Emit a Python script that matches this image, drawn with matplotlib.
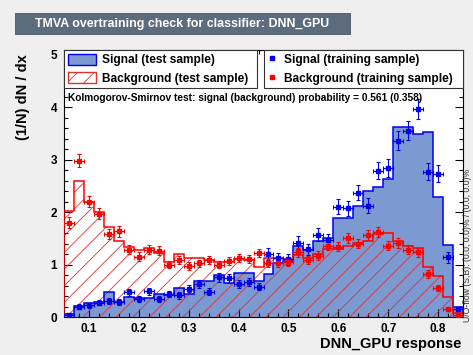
import numpy as np
import matplotlib
matplotlib.use("Agg")
import matplotlib.pyplot as plt
from matplotlib.patches import Patch, Rectangle
from matplotlib.lines import Line2D
from matplotlib.ticker import MultipleLocator

plt.rcParams['font.family'] = ['Liberation Sans', 'DejaVu Sans']
plt.rcParams['hatch.linewidth'] = 0.6

# ---------------- data ----------------
x_min, x_max, n_bins = 0.05, 0.85, 40

sig_test = [0.05, 0.21, 0.27, 0.29, 0.48, 0.28, 0.38, 0.37, 0.37, 0.44,
            0.42, 0.55, 0.43, 0.68, 0.68, 0.81, 0.64, 0.83, 0.84, 0.68,
            0.82, 1.03, 1.06, 1.35, 1.28, 1.44, 1.50, 1.88, 1.88, 2.12,
            2.41, 2.47, 2.64, 3.63, 3.63, 3.48, 3.52, 2.28, 1.38, 0.20]

bkg_test = [2.03, 2.60, 2.20, 2.01, 1.71, 1.44, 1.33, 1.27, 1.31, 1.22,
            1.05, 1.20, 1.12, 1.13, 1.09, 1.04, 1.05, 1.10, 1.08, 0.95,
            1.12, 1.12, 1.10, 1.18, 1.12, 1.20, 1.30, 1.30, 1.35, 1.42,
            1.44, 1.58, 1.60, 1.45, 1.36, 1.32, 0.95, 0.78, 0.38, 0.08]

sig_train = [0.04, 0.20, 0.22, 0.27, 0.31, 0.29, 0.47, 0.35, 0.49, 0.35,
             0.44, 0.41, 0.54, 0.62, 0.48, 0.76, 0.74, 0.62, 0.67, 0.58,
             1.20, 1.12, 1.10, 1.42, 1.29, 1.57, 1.46, 2.10, 2.07, 2.37,
             2.12, 2.79, 2.84, 3.36, 3.55, 3.96, 2.77, 2.73, 1.14, 0.15]
sig_train_err = [0.019, 0.043, 0.045, 0.050, 0.054, 0.052, 0.066, 0.057, 0.068, 0.057,
                 0.064, 0.062, 0.071, 0.076, 0.067, 0.085, 0.083, 0.076, 0.079, 0.074,
                 0.106, 0.103, 0.102, 0.116, 0.110, 0.122, 0.117, 0.141, 0.140, 0.149,
                 0.141, 0.162, 0.163, 0.178, 0.183, 0.193, 0.161, 0.160, 0.104, 0.038]

bkg_train = [1.80, 2.98, 2.20, 1.97, 1.58, 1.63, 1.28, 1.15, 1.28, 1.26,
             1.00, 1.08, 0.97, 1.02, 1.08, 1.00, 1.06, 1.12, 1.10, 1.22,
             1.03, 1.02, 1.05, 1.23, 1.08, 1.17, 1.36, 1.34, 1.50, 1.40,
             1.57, 1.62, 1.36, 1.41, 1.28, 1.23, 0.82, 0.55, 0.15, 0.04]
bkg_train_err = [0.101, 0.129, 0.111, 0.105, 0.094, 0.096, 0.085, 0.080, 0.085, 0.084,
                 0.075, 0.078, 0.074, 0.076, 0.078, 0.075, 0.077, 0.079, 0.079, 0.083,
                 0.076, 0.076, 0.077, 0.083, 0.078, 0.081, 0.087, 0.087, 0.092, 0.089,
                 0.094, 0.095, 0.087, 0.089, 0.085, 0.083, 0.068, 0.056, 0.029, 0.015]

title = "TMVA overtraining check for classifier: DNN_GPU"
ks_text = "Kolmogorov-Smirnov test: signal (background) probability = 0.561 (0.358)"
flow_text = "U/O-flow (S,B): (0.0, 0.0)% / (0.0, 0.0)%"
x_label = "DNN_GPU response"
y_label = "(1/N) dN / dx"
legend_test = ["Signal (test sample)", "Background (test sample)"]
legend_train = ["Signal (training sample)", "Background (training sample)"]

# ---------------- styling ----------------
SIG_FILL = '#7d99d1'
SIG_LINE = '#0000ee'
BKG_LINE = '#ff0000'
FIG_BG = '#efefef'

edges = np.linspace(x_min, x_max, n_bins + 1)
centers = 0.5 * (edges[:-1] + edges[1:])
half_w = 0.5 * (edges[1] - edges[0])

fig = plt.figure(figsize=(4.73, 3.55), dpi=100, facecolor=FIG_BG)
W, H = 473, 355
ax = fig.add_axes([64 / W, 1 - 317 / H, (463 - 64) / W, (317 - 50) / H])
ax.set_facecolor('white')

# signal test: filled histogram
ax.stairs(sig_test, edges, fill=True, facecolor=SIG_FILL, edgecolor='none', zorder=1)
# background test: hatched histogram
ax.stairs(bkg_test, edges, fill=True, facecolor='none', edgecolor='#e03030',
          hatch='//', linewidth=0, zorder=2)
ax.stairs(sig_test, edges, color=SIG_LINE, linewidth=1.1, zorder=3)
ax.stairs(bkg_test, edges, color=BKG_LINE, linewidth=1.1, zorder=3)

# training samples: points with errors
ax.errorbar(centers, sig_train, yerr=sig_train_err, xerr=half_w, fmt='s',
            color=SIG_LINE, ms=3.0, elinewidth=0.8, capsize=1.3, capthick=0.8, zorder=4)
ax.errorbar(centers, bkg_train, yerr=bkg_train_err, xerr=half_w, fmt='s',
            color=BKG_LINE, ms=3.0, elinewidth=0.8, capsize=1.3, capthick=0.8, zorder=4)

ax.set_xlim(x_min, x_max)
ax.set_ylim(0, 5.09)
ax.xaxis.set_major_locator(MultipleLocator(0.1))
ax.xaxis.set_minor_locator(MultipleLocator(0.02))
ax.yaxis.set_major_locator(MultipleLocator(1))
ax.yaxis.set_minor_locator(MultipleLocator(0.2))
ax.tick_params(which='both', direction='in', top=True, right=True, width=0.8)
ax.tick_params(which='major', length=6)
ax.tick_params(which='minor', length=3)
ax.tick_params(axis='x', which='major', pad=4.5, labelsize=8.5)
ax.tick_params(axis='y', which='major', pad=5, labelsize=8.5)
for lbl in ax.get_xticklabels() + ax.get_yticklabels():
    lbl.set_fontweight('bold')
for sp in ax.spines.values():
    sp.set_linewidth(0.8)

ax.set_xlabel(x_label, fontsize=10.5, fontweight='bold', loc='right')
ax.xaxis.set_label_coords(0.997, -0.075)
ax.set_ylabel(y_label, fontsize=10.5, fontweight='bold', loc='top')
ax.yaxis.set_label_coords(-0.085, 0.985)

# legends
LEG_FONT = {'weight': 'bold', 'size': 8.6}
h_test = [Patch(facecolor=SIG_FILL, edgecolor=SIG_LINE, linewidth=1.0),
          Patch(facecolor='white', edgecolor='#e03030', hatch='//', linewidth=1.0)]
leg1 = ax.legend(h_test, legend_test, loc='upper left', bbox_to_anchor=(0.0, 0.0, 0.484, 1.0),
                 mode='expand', borderaxespad=0, prop=LEG_FONT,
                 handlelength=2.4, handleheight=1.1, handletextpad=0.45, labelspacing=0.45,
                 borderpad=0.3, fancybox=False, framealpha=1, edgecolor='#333333')
leg1.get_frame().set_linewidth(0.8)
leg1.set_zorder(6)
ax.add_artist(leg1)

h_train = [Line2D([], [], linestyle='none', marker='s', ms=3.0, color=SIG_LINE),
           Line2D([], [], linestyle='none', marker='s', ms=3.0, color=BKG_LINE)]
leg2 = ax.legend(h_train, legend_train, loc='upper left', bbox_to_anchor=(0.5, 0.0, 0.5, 1.0),
                 mode='expand', borderaxespad=0, prop=LEG_FONT,
                 handlelength=0.9, handleheight=1.1, handletextpad=0.5, labelspacing=0.45,
                 borderpad=0.3, fancybox=False, framealpha=1, edgecolor='#333333')
leg2.get_frame().set_linewidth(0.8)
leg2.set_zorder(6)

ax.text(0.01, (317 - 98) / 267, ks_text, transform=ax.transAxes, fontsize=7.25,
        fontweight='bold', ha='left', va='center', zorder=5)

# title box
fig.patches.append(Rectangle((15 / W, 1 - 34 / H), 335 / W, 21 / H, transform=fig.transFigure,
                             facecolor='#5d6c7d', edgecolor='#4a5666', linewidth=0.6))
fig.text(35 / W, 1 - 23.5 / H, title, color='white', fontsize=8.9, fontweight='bold',
         ha='left', va='center')

# under/overflow text at the right edge
fig.text(472 / W, 1 - 322 / H, flow_text, rotation=90, fontsize=6.3, color='#333333',
         ha='right', va='bottom')

fig.savefig('out.png', dpi=100, facecolor=FIG_BG)
